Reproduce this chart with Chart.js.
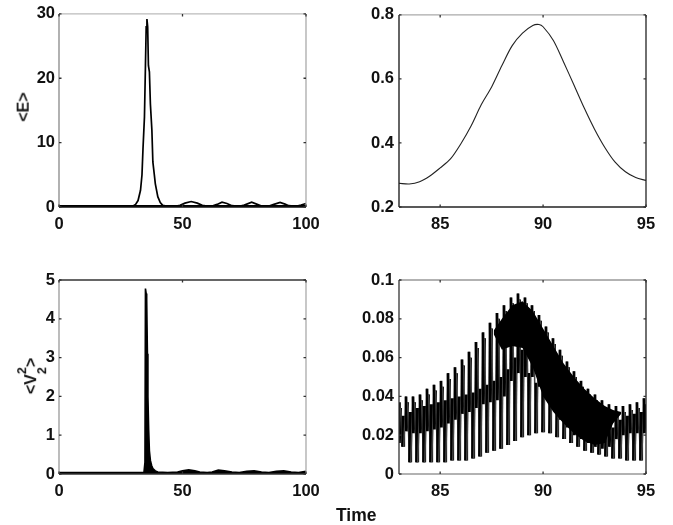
<!DOCTYPE html>
<html><head><meta charset="utf-8">
<script src="https://cdn.jsdelivr.net/npm/chart.js@4/dist/chart.umd.js"></script>
<style>
html,body{margin:0;padding:0;background:#fff;width:673px;height:525px;overflow:hidden}
canvas{position:absolute;filter:blur(0.45px)}
.t{position:absolute;font:bold 16px "Liberation Sans",sans-serif;color:#111;white-space:nowrap;filter:blur(0.35px)}
#yl1,#yl2{transform:rotate(-90deg);transform-origin:center}
.st{display:inline-block;vertical-align:middle;font-size:12.5px;line-height:20px;text-align:left}
.st span{display:block}
</style></head><body>
<canvas id="c1" style="left:0;top:0"></canvas>
<canvas id="c2" style="left:340px;top:0"></canvas>
<canvas id="c3" style="left:0;top:260px"></canvas>
<canvas id="c4" style="left:340px;top:260px"></canvas>
<div class="t" id="yl1" style="left:9px;top:98px">&lt;E&gt;</div>
<div class="t" id="yl2" style="left:14px;top:356px">&lt;V<span class="st"><span>2</span><span>2</span></span>&gt;</div>
<div class="t" style="left:336px;top:505px;font-size:17.5px">Time</div>
<script>
// Panel 1: <E> over the full run
const eTime  = [0,20,27,29,30,31,32,33,33.6,34,34.6,35,35.3,35.6,35.9,36.2,36.6,37,37.6,38,38.6,39,40,41,42,44,47,49,51,53.5,56,58,60,62,64,66,68,70,73,75,78,80,82,85,87,89.5,91.5,93,96,98,100];
const eValue = [0,0,0.02,0.08,0.15,0.4,1,2.6,5,9,14,22,28,29.2,28,22,21,16,12,7,5,3.6,1.6,0.7,0.25,0.1,0.1,0.25,0.6,0.85,0.6,0.25,0.15,0.15,0.4,0.75,0.55,0.2,0.12,0.3,0.75,0.45,0.15,0.15,0.4,0.7,0.45,0.2,0.12,0.3,0.55];
const eBaseTime  = [0,100];
const eBaseValue = [0.06,0.06];
// Panel 2: <E> close up
const e2Time  = [83,83.5,84,84.5,85,85.5,86,86.5,87,87.5,88,88.5,89,89.5,89.8,90,90.5,91,91.5,92,92.5,93,93.5,94,94.5,95];
const e2Value = [0.274,0.272,0.279,0.297,0.322,0.35,0.397,0.453,0.52,0.575,0.642,0.704,0.743,0.767,0.77,0.763,0.72,0.652,0.581,0.509,0.443,0.386,0.34,0.31,0.292,0.283];
// Panel 3: <V2^2> over the full run
const vTime  = [0,34.4,34.8,35,35.3,35.5,35.8,36,36.3,36.6,37,37.5,38,39,40,44,48,50,52.5,55,57,60,62,64.5,67,70,73,76,79,82,85,88,91,94,97,100];
const vValue = [0.04,0.04,0.3,4.78,4.65,4.5,3.1,2,1.15,0.6,0.35,0.22,0.14,0.08,0.05,0.04,0.05,0.08,0.11,0.08,0.05,0.04,0.05,0.1,0.08,0.05,0.04,0.07,0.08,0.05,0.04,0.07,0.08,0.05,0.04,0.07];
// Panel 4: <V2^2> close up, one row per fast oscillation
const cycleTime = [83,83.34,83.68,84.02,84.36,84.7,85.04,85.38,85.72,86.06,86.4,86.74,87.08,87.42,87.76,88.1,88.44,88.78,89.12,89.46,89.8,90.14,90.48,90.82,91.16,91.5,91.84,92.18,92.52,92.86,93.2,93.54,93.88,94.22,94.56,94.9];
const cycleHigh = [.037,.040,.040,.041,.044,.046,.048,.052,.055,.059,.063,.068,.073,.078,.083,.087,.091,.093,.091,.087,.082,.076,.070,.064,.058,.053,.048,.044,.041,.038,.036,.035,.035,.036,.037,.039];
const cycleDip  = [.016,.022,.021,.021,.022,.023,.024,.026,.028,.031,.032,.034,.036,.037,.038,.040,.048,.052,.050,.050,.045,.040,.034,.028,.024,.020,.018,.016,.014,.013,.014,.018,.020,.021,.021,.021];
const cycleMid  = [.034,.037,.037,.038,.041,.043,.045,.049,.052,.056,.060,.065,.070,.075,.080,.084,.088,.090,.088,.084,.079,.073,.067,.061,.055,.050,.045,.041,.038,.035,.033,.032,.032,.033,.034,.036];
const cycleLow  = [.014,.006,.006,.006,.006,.006,.006,.007,.007,.007,.008,.009,.011,.012,.013,.015,.017,.019,.020,.021,.0215,.021,.019,.018,.016,.014,.012,.011,.010,.009,.008,.008,.007,.007,.007,.006];
const cycleRise = [.030,.032,.034,.035,.036,.037,.038,.039,.040,.041,.042,.044,.046,.048,.050,.054,.060,.064,.052,.047,.042,.038,.034,.033,.032,.030,.028,.027,.026,.025,.024,.028,.030,.031,.032,.033];
const cycleSteps = [0,0.02,0.08,0.17,0.2,0.23];
// Panel 4: where the oscillations merge into a solid band
const bandTime   = [87.6,88,88.5,89,89.5,90,90.5,91,91.5,92,92.5,93,93.4,93.8];
const bandTop    = [.074,.080,.087,.089,.084,.075,.066,.057,.050,.044,.039,.035,.033,.032];
const bandBottom = [.072,.064,.066,.065,.055,.040,.032,.026,.021,.017,.015,.016,.026,.031];
// Tick labels
const xTicksFull = [0,50,100];
const xTicksZoom = [85,90,95];
const yTicks1 = [0,10,20,30];
const yTicks2 = [0.2,0.4,0.6,0.8];
const yTicks3 = [0,1,2,3,4,5];
const yTicks4 = [0,0.02,0.04,0.06,0.08,0.1];
// Frame edge shades: top, right, bottom, left
const edges1 = ['#bbb','#aaa','#111','#888'];
const edges2 = ['#aaa','#222','#222','#111'];
const edges3 = ['#333','#aaa','#333','#999'];
const edges4 = ['#999','#222','#999','#333'];

const pts = (xs,ys)=>xs.map((x,i)=>({x,y:ys[i]}));
const cyclePts = [];
cycleTime.forEach((t,i)=>{
  [cycleHigh,cycleDip,cycleMid,cycleLow,cycleRise,cycleLow].forEach((arr,k)=>{
    const x=t+cycleSteps[k];
    if(x<=95) cyclePts.push({x,y:arr[i]});
  });
});

const frame = {
  id:'frame',
  afterDatasetsDraw(ch,args,opts){
    const {ctx,chartArea:a,scales:{x,y}}=ch;
    const e=opts.edges;
    ctx.save();
    ctx.lineWidth=1.3;
    const seg=(c,x1,y1,x2,y2)=>{ctx.strokeStyle=c;ctx.beginPath();ctx.moveTo(x1,y1);ctx.lineTo(x2,y2);ctx.stroke();};
    seg(e[0],a.left,a.top,a.right,a.top);
    seg(e[1],a.right,a.top,a.right,a.bottom);
    seg(e[2],a.left,a.bottom,a.right,a.bottom);
    seg(e[3],a.left,a.top,a.left,a.bottom);
    ctx.strokeStyle='#333';
    ctx.beginPath();
    x.ticks.forEach(t=>{const p=x.getPixelForValue(t.value);ctx.moveTo(p,a.bottom);ctx.lineTo(p,a.bottom-2.5);ctx.moveTo(p,a.top);ctx.lineTo(p,a.top+2.5);});
    y.ticks.forEach(t=>{const p=y.getPixelForValue(t.value);ctx.moveTo(a.left,p);ctx.lineTo(a.left+2.5,p);ctx.moveTo(a.right,p);ctx.lineTo(a.right-2.5,p);});
    ctx.stroke();
    ctx.restore();
  }
};

function panel(id,w,h,pad,xh,xr,xt,yr,yt,fmt,edges,ypad,datasets){
  const el=document.getElementById(id);
  el.width=w;el.height=h;el.style.width=w+'px';el.style.height=h+'px';
  const font={family:'"Liberation Sans",sans-serif',size:16.5,weight:'bold'};
  new Chart(el,{
    type:'line',
    data:{datasets},
    plugins:[frame],
    options:{
      responsive:false,animation:false,devicePixelRatio:1,
      layout:{padding:pad},
      plugins:{legend:{display:false},tooltip:{enabled:false},frame:{edges}},
      elements:{point:{radius:0},line:{tension:0,borderCapStyle:'butt'}},
      scales:{
        x:{type:'linear',min:xr[0],max:xr[1],
          afterBuildTicks:s=>{s.ticks=xt.map(v=>({value:v}));},
          afterFit:s=>{s.height=xh;},
          grid:{display:false},border:{display:false},
          ticks:{color:'#111',font,padding:0,autoSkip:false,maxRotation:0,callback:v=>String(v)}},
        y:{type:'linear',min:yr[0],max:yr[1],
          afterBuildTicks:s=>{s.ticks=yt.map(v=>({value:v}));},
          afterFit:s=>{s.width=59;},
          grid:{display:false,drawTicks:false},border:{display:false},
          ticks:{color:'#111',font,padding:ypad,autoSkip:false,callback:fmt}}
      }
    }
  });
}
const num=v=>String(v);
const dec=v=>v===0?'0':String(+v.toFixed(2));

panel('c1',330,240,{top:12,right:24},33,[0,100],xTicksFull,[0,30],yTicks1,num,edges1,4,[
  {data:pts(eBaseTime,eBaseValue),borderColor:'#000',borderWidth:3},
  {data:pts(eTime,eValue),borderColor:'#000',borderWidth:1.7}
]);
panel('c2',333,240,{top:12,right:27},33,[83,95],xTicksZoom,[0.2,0.8],yTicks2,dec,edges2,5,[
  {data:pts(e2Time,e2Value),borderColor:'#222',borderWidth:1.1,tension:0.3}
]);
panel('c3',330,245,{top:20,right:24},31,[0,100],xTicksFull,[0,5],yTicks3,num,edges3,4,[
  {data:pts(vTime,vValue),borderColor:'#000',borderWidth:1.6,fill:'origin',backgroundColor:'#000'}
]);
const longLeg = c => Math.abs(c.p1.parsed.x-c.p0.parsed.x)>0.085;
panel('c4',333,245,{top:20,right:27},31,[83,95],xTicksZoom,[0,0.1],yTicks4,dec,edges4,5,[
  {data:pts(bandTime,bandTop),borderWidth:0,borderColor:'#000',fill:'+1',backgroundColor:'#000'},
  {data:pts(bandTime,bandBottom),borderWidth:0,borderColor:'#000'},
  {data:cyclePts,borderColor:'#000',borderWidth:2.8,
   segment:{borderColor:c=>longLeg(c)?'#444':undefined,borderWidth:c=>longLeg(c)?1.5:undefined}}
]);
</script>
</body></html>
